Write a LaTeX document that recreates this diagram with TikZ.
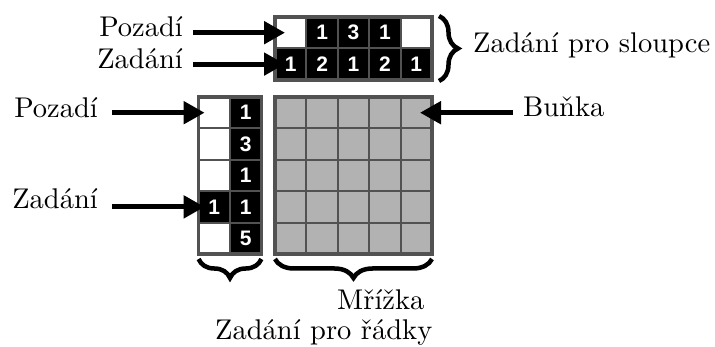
\documentclass[tikz,border=0pt]{standalone}
\usepackage{fontspec}
\setmainfont{lmroman10-regular.otf}
\newfontfamily\cluefont{Liberation Sans}
\usetikzlibrary{arrows.meta,decorations.pathreplacing}
\definecolor{gridgray}{RGB}{82,82,82}
\definecolor{boardgray}{RGB}{178,178,178}
\begin{document}
\begin{tikzpicture}[x=1pt,y=-1pt,
  cell/.style={draw=gridgray, line width=2pt, minimum size=31.4pt,
    inner sep=0pt, outer sep=0pt, anchor=north west},
  clue/.style={cell, fill=black, text=white,
    font=\cluefont\bfseries\fontsize{21}{21}\selectfont},
  blank/.style={cell, fill=white},
  board/.style={cell, fill=boardgray},
  frame/.style={draw=gridgray, line width=3.5pt},
  pointer/.style={line width=5pt, -{Triangle[length=21pt,width=22pt]}},
  lbl/.style={font=\fontsize{28.5}{30}\selectfont, inner sep=0pt},
  bracket/.style={decorate, decoration={brace, amplitude=19pt}, line width=4.5pt}
]
\useasboundingbox (0,0) rectangle (715,347);

% column clues
\node[blank] (t11) at (275,17) {};
\node[clue]  (t12) at (306.4,17) {1};
\node[clue]  (t13) at (337.8,17) {3};
\node[clue]  (t14) at (369.2,17) {1};
\node[blank] (t15) at (400.6,17) {};
\node[clue]  (t21) at (275,48.4) {1};
\node[clue]  (t22) at (306.4,48.4) {2};
\node[clue]  (t23) at (337.8,48.4) {1};
\node[clue]  (t24) at (369.2,48.4) {2};
\node[clue]  (t25) at (400.6,48.4) {1};
\draw[frame] (t11.north west) rectangle (t25.south east);

% row clues
\node[blank] (l11) at (198.6,97) {};
\node[clue]  (l12) at (230,97) {1};
\node[blank] (l21) at (198.6,128.4) {};
\node[clue]  (l22) at (230,128.4) {3};
\node[blank] (l31) at (198.6,159.8) {};
\node[clue]  (l32) at (230,159.8) {1};
\node[clue]  (l41) at (198.6,191.2) {1};
\node[clue]  (l42) at (230,191.2) {1};
\node[blank] (l51) at (198.6,222.6) {};
\node[clue]  (l52) at (230,222.6) {5};
\draw[frame] (l11.north west) rectangle (l52.south east);

% the board
\foreach \r in {1,...,5}
  \foreach \c in {1,...,5}
    \node[board] (g\r\c) at ({275+31.4*(\c-1)},{97+31.4*(\r-1)}) {};
\draw[frame] (g11.north west) rectangle (g55.south east);

% labels and pointers
\node[lbl, anchor=base east] (pz1) at (183,37) {Pozadí};
\node[lbl, anchor=base east] (zd1) at (183,69) {Zadání};
\draw[pointer] ([xshift=10pt]pz1.east |- t11.west) -- ([xshift=10pt]t11.west);
\draw[pointer] ([xshift=10pt]zd1.east |- t21.west) -- ([xshift=10pt]t21.west);

\node[lbl, anchor=base east] (pz2) at (98,118) {Pozadí};
\node[lbl, anchor=base east] (zd2) at (98,209) {Zadání};
\draw[pointer] ([xshift=14pt]pz2.east |- l11.west) -- ([xshift=6pt]l11.west);
\draw[pointer] ([xshift=14pt]zd2.east |- l41.west) -- ([xshift=6pt]l41.west);

\node[lbl, anchor=base west] (bk) at (523,117) {Buňka};
\draw[pointer] ([xshift=-10pt]bk.west |- g15.east) -- ([xshift=-12pt]g15.east);

% braces
\coordinate (cb1) at (439,16);
\coordinate (cb2) at (439,81);
\draw[bracket] (cb1) -- (cb2);
\node[lbl, anchor=base west] (zs) at (473,53) {Zadání pro sloupce};

\coordinate (rb1) at (261.4,259);
\coordinate (rb2) at (198.6,259);
\draw[bracket] (rb1) -- (rb2);
\coordinate (gb1) at (432,259);
\coordinate (gb2) at (275,259);
\draw[bracket] (gb1) -- (gb2);

\node[lbl, anchor=base west] (mz) at (337,310) {Mřížka};
\node[lbl, anchor=base west] (zr) at (215,340) {Zadání pro řádky};
\end{tikzpicture}
\end{document}
